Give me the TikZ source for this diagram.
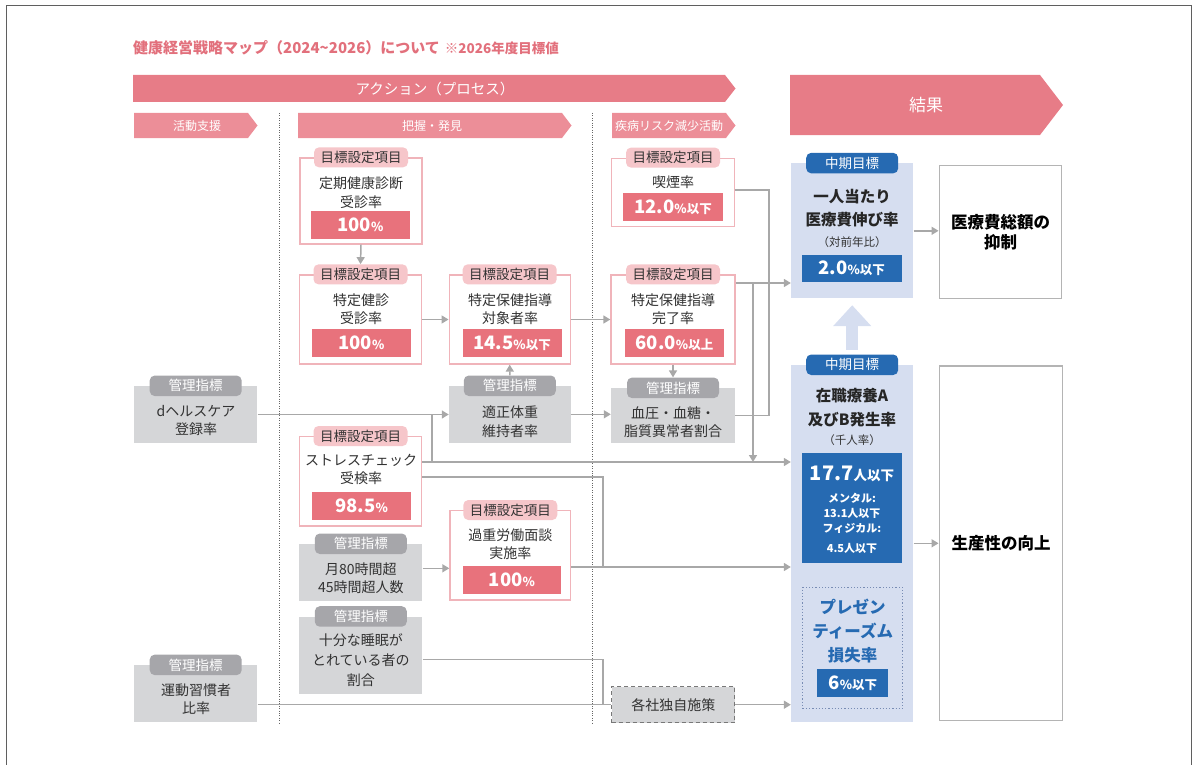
\documentclass[tikz,border=0pt]{standalone}
\usepackage{fontspec}
\setmainfont{Noto Sans CJK JP}
\usetikzlibrary{arrows.meta, positioning, calc}
\definecolor{bannerpink}{RGB}{231,124,135}
\definecolor{subpink}{RGB}{236,142,152}
\definecolor{titlepink}{RGB}{226,112,124}
\definecolor{pinkline}{RGB}{240,180,186}
\definecolor{pinktag}{RGB}{246,198,202}
\definecolor{pinkval}{RGB}{232,114,124}
\definecolor{greybox}{RGB}{213,214,216}
\definecolor{greytag}{RGB}{166,166,170}
\definecolor{bluecol}{RGB}{214,222,240}
\definecolor{bluedark}{RGB}{38,106,178}
\definecolor{dotblue}{RGB}{120,140,180}
\definecolor{linkgrey}{RGB}{168,168,168}
\definecolor{dashgrey}{RGB}{120,120,120}
\definecolor{txtdark}{RGB}{50,50,50}
\definecolor{framegrey}{RGB}{95,95,95}
\definecolor{resline}{RGB}{180,180,180}
\newcommand\bignum[1]{{\fontsize{18.5}{18.5}\selectfont #1}}

\begin{document}
\begin{tikzpicture}[x=1pt, y=-1pt, >={Triangle[length=7pt,width=8pt]},
    goal/.style={draw=pinkline, line width=1.3pt, fill=white, inner sep=0pt},
    goaltag/.style={fill=pinktag, rounded corners=5pt, text=txtdark, minimum width=94pt, minimum height=20pt, inner sep=0pt, font=\fontsize{13.5}{13.5}\selectfont},
    goalval/.style={fill=pinkval, text=white, minimum width=99pt, minimum height=28pt, inner sep=0pt, font=\bfseries\fontsize{12.5}{12.5}\selectfont},
    kpi/.style={fill=greybox, inner sep=0pt},
    kpitag/.style={fill=greytag, rounded corners=5pt, text=white, minimum width=92pt, minimum height=20.5pt, inner sep=0pt, font=\fontsize{13.5}{13.5}\selectfont},
    mid/.style={fill=bluecol, inner sep=0pt},
    midtag/.style={fill=bluedark, rounded corners=5pt, text=white, minimum width=92pt, minimum height=20.5pt, inner sep=0pt, font=\fontsize{13.5}{13.5}\selectfont},
    midval/.style={fill=bluedark, text=white, inner sep=0pt, font=\bfseries\fontsize{12.5}{12.5}\selectfont},
    midtxt/.style={text=black!85, align=center, font=\bfseries\fontsize{15.5}{23.3}\selectfont},
    result/.style={draw=resline, line width=1.5pt, inner sep=0pt, align=center, font=\bfseries\fontsize{16.5}{20.5}\selectfont},
    txt/.style={text=txtdark, align=center, inner sep=0pt, font=\fontsize{14}{18.5}\selectfont},
    smalltxt/.style={text=txtdark, inner sep=0pt, font=\fontsize{11.5}{11.5}\selectfont},
    bannertxt/.style={text=white, inner sep=0pt, font=\fontsize{14.5}{14.5}\selectfont},
    subtxt/.style={text=white, inner sep=0pt, font=\fontsize{12}{12}\selectfont},
    divider/.style={draw=black!60, line width=0.8pt, dash pattern=on 0.8pt off 1.6pt},
    link/.style={draw=linkgrey, line width=1.5pt}]
      \useasboundingbox (0,0) rectangle (1193,765);
      \draw[framegrey, line width=1.3pt] (6.5,765) -- (6.5,5.5) -- (1191.5,5.5) -- (1191.5,765);

      \node[anchor=west, inner sep=0pt, text=titlepink, font=\bfseries\fontsize{15}{15}\selectfont] (title) at (133,48)
        {健康経営戦略マップ（2024\textasciitilde 2026）について\hspace{5pt}{\fontsize{13.5}{13.5}\selectfont ※2026年度目標値}};

      % banners
      \fill[bannerpink] (133,75) -- (725,75) -- (735.5,88.5) -- (725,102) -- (133,102) -- cycle;
      \node[bannertxt] (action) at (435,89) {アクション（プロセス）};
      \fill[bannerpink] (790,75) -- (1040,75) -- (1063,105) -- (1040,135) -- (790,135) -- cycle;
      \node[bannertxt, font=\fontsize{17}{17}\selectfont] (kekka) at (926,105) {結果};
      \fill[subpink] (134,113) -- (248,113) -- (257.5,125.5) -- (248,138) -- (134,138) -- cycle;
      \node[subtxt] (shien) at (197,125.5) {活動支援};
      \fill[subpink] (298,113) -- (562,113) -- (571.5,125.5) -- (562,138) -- (298,138) -- cycle;
      \node[subtxt] (haaku) at (432,125.5) {把握・発見};
      \fill[subpink] (612,113) -- (726,113) -- (735.5,125.5) -- (726,138) -- (612,138) -- cycle;
      \node[subtxt] (shippei) at (669,125.5) {疾病リスク減少活動};

      \foreach \x in {279,592} \draw[divider] (\x,113) -- (\x,723);

      % goal boxes
      \node[goal, minimum width=122pt, minimum height=86pt] (teiki) at (361,201) {};
      \node[goaltag] (teikitag) at (teiki.north) {目標設定項目};
      \node[txt] at (361,192.5) {定期健康診断\\受診率};
      \node[goalval] (teikival) at (360.5,225) {\bignum{100}\%};

      \node[goal, minimum width=122pt, minimum height=89pt] (tokutei) at (360.5,319.5) {};
      \node[goaltag] (tokuteitag) at (tokutei.north) {目標設定項目};
      \node[txt] at (361,309) {特定健診\\受診率};
      \node[goalval] (tokuteival) at (361.5,343) {\bignum{100}\%};

      \node[goal, minimum width=121pt, minimum height=89pt] (taisho) at (509.7,319.5) {};
      \node[goaltag] (taishotag) at (taisho.north) {目標設定項目};
      \node[txt] at (510,309) {特定保健指導\\対象者率};
      \node[goalval] (taishoval) at (512,343) {\bignum{14.5}\%以下};

      \node[goal, minimum width=124pt, minimum height=89pt] (kanryo) at (673,319.5) {};
      \node[goaltag] (kanryotag) at (kanryo.north) {目標設定項目};
      \node[txt] at (673,309) {特定保健指導\\完了率};
      \node[goalval] (kanryoval) at (674.5,343) {\bignum{60.0}\%以上};

      \node[goal, minimum width=122.5pt, minimum height=68.5pt] (kitsuen) at (673,192.5) {};
      \node[goaltag] (kitsuentag) at (kitsuen.north) {目標設定項目};
      \node[txt] at (673,181.7) {喫煙率};
      \node[goalval, minimum width=100pt] (kitsuenval) at (673,207) {\bignum{12.0}\%以下};

      \node[goal, minimum width=122pt, minimum height=89.3pt] (stress) at (360.5,481.3) {};
      \node[goaltag] (stresstag) at (stress.north) {目標設定項目};
      \node[txt] at (361,469.3) {ストレスチェック\\受検率};
      \node[goalval] (stressval) at (361.6,505.5) {\bignum{98.5}\%};

      \node[goal, minimum width=120.7pt, minimum height=89.3pt] (kajyu) at (510.3,555.3) {};
      \node[goaltag] (kajyutag) at (kajyu.north) {目標設定項目};
      \node[txt] at (510.3,544) {過重労働面談\\実施率};
      \node[goalval, minimum width=97.4pt] (kajyuval) at (512,580) {\bignum{100}\%};

      % management indicators
      \node[kpi, minimum width=123.3pt, minimum height=57pt] (dhealth) at (195.7,414.5) {};
      \node[kpitag] (dhealthtag) at (dhealth.north) {管理指標};
      \node[txt] at (196,420.5) {dヘルスケア\\登録率};

      \node[kpi, minimum width=121.7pt, minimum height=56.7pt] (tekisei) at (509.8,414.3) {};
      \node[kpitag] (tekiseitag) at (tekisei.north) {管理指標};
      \node[txt] at (510,421.5) {適正体重\\維持者率};

      \node[kpi, minimum width=124pt, minimum height=55.3pt] (ketsuatsu) at (673,415.7) {};
      \node[kpitag] (ketsuatsutag) at (ketsuatsu.north) {管理指標};
      \node[txt] at (673,422) {血圧・血糖・\\脂質異常者割合};

      \node[kpi, minimum width=123pt, minimum height=56.7pt] (getsu80) at (360.8,572.3) {};
      \node[kpitag] (getsu80tag) at (getsu80.north) {管理指標};
      \node[txt] at (360.8,578.3) {月80時間超\\45時間超人数};

      \node[kpi, minimum width=123pt, minimum height=77.3pt] (suimin) at (360.8,655.3) {};
      \node[kpitag] (suimintag) at (suimin.north) {管理指標};
      \node[txt, font=\fontsize{14}{20}\selectfont] at (360.8,659.7) {十分な睡眠が\\とれている者の\\割合};

      \node[kpi, minimum width=123.3pt, minimum height=57.3pt] (undo) at (195.7,693.7) {};
      \node[kpitag] (undotag) at (undo.north) {管理指標};
      \node[txt] at (196,699) {運動習慣者\\比率};

      \node[kpi, draw=dashgrey, line width=1pt, dash pattern=on 4pt off 3pt, minimum width=123.3pt, minimum height=36pt, text=txtdark, font=\fontsize{14}{14}\selectfont] (kakusha) at (673.3,704.7) {各社独自施策};

      % mid-term targets
      \node[mid, minimum width=122.3pt, minimum height=135pt] (iktop) at (852.2,230.8) {};
      \node[midtag] (iktoptag) at (iktop.north) {中期目標};
      \node[midtxt] at (852,208.3) {一人当たり\\医療費伸び率};
      \node[smalltxt] at (852,241.7) {（対前年比）};
      \node[midval, minimum width=100pt, minimum height=26.7pt] (iktopval) at (851.7,268.3) {\bignum{2.0}\%以下};

      \node[mid, minimum width=122.3pt, minimum height=356.7pt] (ikbot) at (852.2,543.3) {};
      \node[midtag] (ikbottag) at (ikbot.north) {中期目標};
      \node[midtxt] at (852,407.5) {在職療養A\\及びB発生率};
      \node[smalltxt] at (852,440) {（千人率）};
      \node[midval, minimum width=99.4pt, minimum height=109.4pt] (ikbotval) at (852,508) {};
      \node[text=white, font=\bfseries\fontsize{13.5}{13.5}\selectfont] at (852,474) {{\fontsize{20}{20}\selectfont 17.7}人以下};
      \node[text=white, align=center, font=\bfseries\fontsize{11}{15.3}\selectfont] at (852,523) {メンタル:\\13.1人以下\\フィジカル:\\[4pt]4.5人以下};

      \node[draw=dotblue, dotted, line width=1.2pt, minimum width=100pt, minimum height=121pt, inner sep=0pt] (presen) at (852.7,647.8) {};
      \node[text=bluedark, align=center, font=\bfseries\fontsize{16.5}{24}\selectfont] at (852.7,631) {プレゼン\\ティーズム\\損失率};
      \node[midval, minimum width=71pt, minimum height=27.4pt] (presenval) at (852.8,683) {\bignum{6}\%以下};

      \draw[bluecol, line width=11.5pt, -{Triangle[length=21pt,width=37pt]}] ($(ikbot.north)+(0,-15)$) -- ($(iktop.south)+(0,6.7)$);

      % results
      \node[result, minimum width=122.4pt, minimum height=133.3pt] (res1) at (1000.5,232) {医療費総額の\\抑制};
      \node[result, minimum width=123.4pt, minimum height=354.7pt] (res2) at (1001,543.3) {生産性の向上};

      % connectors
      \coordinate (dbranch) at (432,462);
      \coordinate (stressturn) at (603,477);
      \coordinate (lowline) at (603,567);
      \coordinate (smoketurn) at (769,190);
      \coordinate (kanryodown) at (753,283);
      \coordinate (sleepturn) at (603,659.3);

      \draw[link,->] (teiki.south) -- (tokuteitag.north);
      \draw[link,->] (tokutei.east) -- (taisho.west);
      \draw[link,->] (taisho.east) -- (kanryo.west);
      \draw[link,->] (kanryo.south) -- (ketsuatsutag.north);
      \draw[link,->] (tekiseitag.north) -- (taisho.south);
      \draw[link,->] (dhealth.east) -- (dhealth.east -| tekisei.west);
      \draw[link,->] (tekisei.east) -- (tekisei.east -| ketsuatsu.west);
      \draw[link] (dbranch |- dhealth.east) -- (dbranch);
      \draw[link,->] (stress.east |- dbranch) -- (dbranch -| ikbot.west);
      \draw[link] (stress.east |- stressturn) -- (stressturn) -- (lowline);
      \path ([yshift=4pt]getsu80.east) coordinate (g80out);
      \draw[link,->] (g80out) -- (g80out -| kajyu.west);
      \draw[link,->] (kajyu.east |- lowline) -- (lowline -| ikbot.west);
      \draw[link] (kitsuen.east |- smoketurn) -- (smoketurn) -- (smoketurn |- ketsuatsu.east) -- (ketsuatsu.east);
      \draw[link,->] (kanryo.east |- kanryodown) -- (kanryodown -| iktop.west);
      \draw[link,->] (kanryodown) -- (kanryodown |- dbranch);
      \draw[link,->] (iktop.east) -- (res1.west |- iktop.east);
      \draw[link,->] (ikbot.east) -- (res2.west);
      \draw[link] (suimin.east |- sleepturn) -- (sleepturn) -- (sleepturn |- kakusha.west);
      \draw[link] (undo.east |- kakusha.west) -- (kakusha.west);
      \draw[link,->] (kakusha.east) -- (kakusha.east -| ikbot.west);
    \end{tikzpicture}
\end{document}
